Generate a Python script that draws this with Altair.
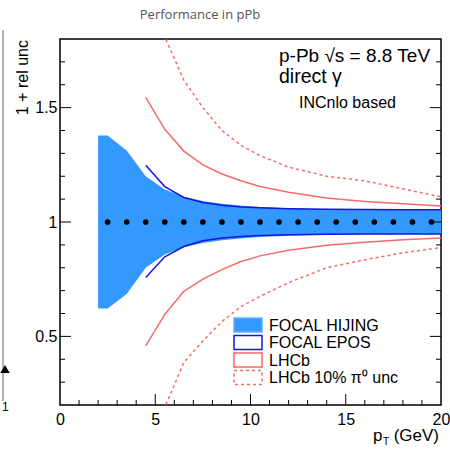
import altair as alt
import pandas as pd

# ---------------- data ----------------
band_x = [2, 2.5, 3.5, 4.5, 5.5, 6.5, 7.5, 8.5, 9.5, 10.5, 12, 14, 16, 18, 20]
band_hi = [1.378, 1.378, 1.313, 1.200, 1.142, 1.110, 1.092, 1.080, 1.072, 1.066, 1.060, 1.056, 1.054, 1.052, 1.052]
band_lo = [0.622, 0.622, 0.685, 0.800, 0.858, 0.890, 0.908, 0.920, 0.928, 0.934, 0.940, 0.944, 0.946, 0.948, 0.948]

line_x = [4.5, 5.5, 6.5, 7.5, 8.5, 9.5, 10.5, 12, 14, 16, 18, 20]
epos_hi = [1.248, 1.155, 1.107, 1.085, 1.073, 1.066, 1.062, 1.058, 1.056, 1.055, 1.054, 1.054]
epos_lo = [0.757, 0.848, 0.893, 0.918, 0.930, 0.937, 0.941, 0.944, 0.946, 0.947, 0.948, 0.948]
lhcb_hi = [1.545, 1.405, 1.310, 1.250, 1.210, 1.180, 1.155, 1.130, 1.105, 1.090, 1.080, 1.070]
lhcb_lo = [0.458, 0.596, 0.697, 0.750, 0.792, 0.827, 0.852, 0.876, 0.898, 0.912, 0.922, 0.930]
pi0_hi = [2.10, 1.81, 1.62, 1.50, 1.40, 1.335, 1.29, 1.24, 1.20, 1.18, 1.145, 1.11]
pi0_lo = [-0.10, 0.19, 0.386, 0.48, 0.565, 0.63, 0.675, 0.735, 0.80, 0.835, 0.865, 0.888]

dot_x = [2.5, 3.5, 4.5, 5.5, 6.5, 7.5, 8.5, 9.5, 10.5, 11.5, 12.5, 13.5, 14.5, 15.5, 16.5, 17.5, 18.5, 19.5]
dot_y = [1.0] * len(dot_x)

x_labels = [0, 5, 10, 15, 20]
y_labels = [0.5, 1.0, 1.5]
x_major = [5, 10, 15]
x_minor = [1, 2, 3, 4, 6, 7, 8, 9, 11, 12, 13, 14, 16, 17, 18, 19]
y_major = [0.5, 1.0, 1.5]
y_minor = [0.3, 0.4, 0.6, 0.7, 0.8, 0.9, 1.1, 1.2, 1.3, 1.4, 1.6, 1.7]

legend_labels = ["FOCAL HIJING", "FOCAL EPOS", "LHCb", "LHCb 10% \u03c0\u2070 unc"]

# ---------------- styling ----------------
W, H = 381, 366
BLUE_BAND = "#3399ff"
BLUE_LINE = "#1515e0"
RED = "#f86a6a"
FONT = "Liberation Sans"

xs = alt.Scale(domain=[0, 20], nice=False, zero=False)
ys = alt.Scale(domain=[0.2, 1.8], nice=False, zero=False)

x_axis = alt.Axis(values=x_labels, title=None, ticks=False, domain=False, grid=False,
                  labelFlush=False, labelOverlap=False, labelPadding=6, labelFontSize=16,
                  labelFont=FONT, labelColor="black", format="d")
y_axis = alt.Axis(values=y_labels, title=None, ticks=False, domain=False, grid=False,
                  labelFlush=False, labelOverlap=False, labelPadding=3, labelFontSize=16,
                  labelFont=FONT, labelColor="black", labelExpr="toString(datum.value)")

X = lambda f: alt.X(f, scale=xs, axis=x_axis, title=None)
Y = lambda f: alt.Y(f, scale=ys, axis=y_axis, title=None)

band_df = pd.DataFrame({"pt": band_x, "hi": band_hi, "lo": band_lo})
band = alt.Chart(band_df).mark_area(color=BLUE_BAND, opacity=1, interpolate="linear").encode(
    x=X("pt:Q"), y=Y("lo:Q"), y2="hi:Q",
)


def series_df(pairs):
    rows = []
    for name, vals in pairs:
        for xv, yv in zip(line_x, vals):
            rows.append({"pt": xv, "v": yv, "s": name})
    return pd.DataFrame(rows)


def line_layer(pairs, color, dash=None):
    kw = dict(color=color, strokeWidth=1.5, clip=True, interpolate="linear")
    if dash is not None:
        kw["strokeDash"] = dash
    return alt.Chart(series_df(pairs)).mark_line(**kw).encode(
        x=X("pt:Q"), y=Y("v:Q"), detail="s:N",
    )


epos = line_layer([("hi", epos_hi), ("lo", epos_lo)], BLUE_LINE)
lhcb = line_layer([("hi", lhcb_hi), ("lo", lhcb_lo)], RED)
pi0 = line_layer([("hi", pi0_hi), ("lo", pi0_lo)], RED, dash=[3, 3])

dots = alt.Chart(pd.DataFrame({"pt": dot_x, "v": dot_y})).mark_circle(
    size=32, color="black", opacity=1).encode(x=X("pt:Q"), y=Y("v:Q"))


def ytick(vals, x0, x1):
    return alt.Chart(pd.DataFrame({"v": vals})).mark_rule(color="black", strokeWidth=1).encode(
        y=Y("v:Q"), x=alt.value(x0), x2=alt.value(x1))


def xtick(vals, length):
    return alt.Chart(pd.DataFrame({"v": vals})).mark_rule(color="black", strokeWidth=1).encode(
        x=X("v:Q"), y=alt.value(H), y2=alt.value(H - length))


ticks = [
    ytick(y_major, 0, 11), ytick(y_minor, 0, 5),
    ytick(y_major, W, W - 11), ytick(y_minor, W, W - 5),
    xtick(x_major, 11), xtick(x_minor, 5),
]

one = alt.Data(values=[{"a": 1}])


def label(text, x, y, size, align="left", font=FONT, color="black", angle=0, baseline="alphabetic"):
    kw = dict(text=text, fontSize=size, font=font, color=color, align=align, baseline=baseline)
    if angle:
        kw["angle"] = angle
    return alt.Chart(one).mark_text(**kw).encode(x=alt.value(x), y=alt.value(y))


texts = [
    label("Performance in pPb", 140, -20, 13, align="center", font="Open Sans", color="#555555"),
    label("p-Pb  \u221as = 8.8 TeV", 219, 23, 19),
    label("direct \u03b3", 219, 44, 19.5),
    label("INCnlo based", 239, 69, 16),
    label("1 + rel unc", -32, 1, 16, align="right", angle=270),
    label("p", 313, 402, 17),
    label("T", 323, 406, 10),
    label("(GeV)", 379, 402, 17, align="right"),
]

# legend
leg = []
box_x0, box_x1 = 174, 202
row0, dy, bh = 279, 17.5, 14
styles = [
    dict(fill=BLUE_BAND, stroke="#66b3ff"),
    dict(fill="white", stroke=BLUE_LINE),
    dict(fill="white", stroke=RED),
    dict(fill="white", stroke=RED, strokeDash=[3, 3]),
]
for i, (lab, st) in enumerate(zip(legend_labels, styles)):
    top = row0 + i * dy
    leg.append(alt.Chart(one).mark_rect(strokeWidth=1.5, **st).encode(
        x=alt.value(box_x0), x2=alt.value(box_x1), y=alt.value(top), y2=alt.value(top + bh)))
    leg.append(label(lab, 209, top + 12.5, 16))

# remnant of neighbouring figure at the far left edge
remnant = [
    alt.Chart(one).mark_rule(color="#666666", strokeWidth=1).encode(
        x=alt.value(-57), y=alt.value(-9), y2=alt.value(362)),
    alt.Chart(one).mark_point(shape="triangle-up", filled=True, color="black", size=90, opacity=1).encode(
        x=alt.value(-55), y=alt.value(330)),
    label("1", -58, 372, 12),
]

chart = alt.layer(band, epos, lhcb, pi0, dots, *ticks, *texts, *leg, *remnant).properties(
    width=W, height=H,
    padding={"left": 60, "top": 39, "right": 9, "bottom": 44},
    autosize="none",
    background="white",
).configure_view(stroke="black", strokeWidth=1.5)

chart.save("out.html", embed_options={"renderer": "svg", "actions": False})
